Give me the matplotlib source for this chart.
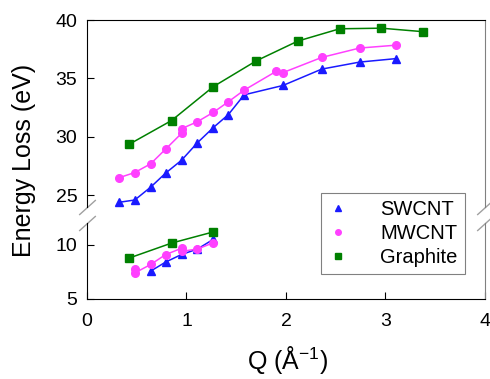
import numpy as np
import matplotlib
matplotlib.use('Agg')
import matplotlib.pyplot as plt
from matplotlib.lines import Line2D

plt.rcParams['font.family'] = ['Liberation Sans', 'DejaVu Sans']
plt.rcParams['mathtext.fontset'] = 'custom'
plt.rcParams['mathtext.rm'] = 'Liberation Sans'

# upper branch (plasmon, ~24-40 eV)
sw_q_hi = [0.32, 0.48, 0.64, 0.79, 0.95, 1.11, 1.27, 1.42, 1.58, 1.97, 2.36, 2.74, 3.11]
sw_e_hi = [24.4, 24.6, 25.7, 26.9, 28.0, 29.5, 30.8, 31.9, 33.6, 34.4, 35.8, 36.4, 36.7]
mw_q_hi = [0.32, 0.48, 0.64, 0.79, 0.95, 0.95, 1.11, 1.27, 1.42, 1.58, 1.90, 1.97, 2.36, 2.74, 3.11]
mw_e_hi = [26.5, 26.95, 27.7, 28.95, 30.3, 30.7, 31.3, 32.1, 33.0, 34.0, 35.6, 35.5, 36.8, 37.6, 37.85]
gr_q_hi = [0.42, 0.85, 1.27, 1.70, 2.12, 2.54, 2.96, 3.38]
gr_e_hi = [29.35, 31.4, 34.3, 36.5, 38.2, 39.25, 39.3, 39.0]

# lower branch (pi plasmon, ~7-11 eV)
sw_q_lo = [0.64, 0.79, 0.95, 1.11, 1.27]
sw_e_lo = [7.57, 8.4, 9.1, 9.6, 10.5]
mw_q_lo = [0.48, 0.48, 0.64, 0.79, 0.95, 0.95, 1.11, 1.27]
mw_e_lo = [7.79, 7.4, 8.18, 9.09, 9.67, 9.39, 9.6, 10.18]
gr_q_lo = [0.42, 0.85, 1.27]
gr_e_lo = [8.76, 10.15, 11.18]

labels = ['SWCNT', 'MWCNT', 'Graphite']
colors = ['#1a1aff', '#ff40ff', '#008000']
markers = ['^', 'o', 's']

fig = plt.figure(figsize=(4.9, 3.79), dpi=100)
ax_top = fig.add_axes([0.1776, 0.4538, 0.812, 0.4934])
ax_bot = fig.add_axes([0.1776, 0.2111, 0.812, 0.2005])

hi = [(sw_q_hi, sw_e_hi), (mw_q_hi, mw_e_hi), (gr_q_hi, gr_e_hi)]
lo = [(sw_q_lo, sw_e_lo), (mw_q_lo, mw_e_lo), (gr_q_lo, gr_e_lo)]
for (qh, eh), (ql, el), c, m in zip(hi, lo, colors, markers):
    ax_top.plot(qh, eh, color=c, marker=m, ms=5.5, lw=1.1)
    ax_bot.plot(ql, el, color=c, marker=m, ms=5.5, lw=1.1)

for ax in (ax_top, ax_bot):
    ax.set_xlim(0, 4)
    ax.spines['right'].set_color('#808080')
    ax.tick_params(direction='in', length=5, width=0.8, labelsize=14, pad=7)

ax_top.set_ylim(24, 40)
ax_top.set_yticks([25, 30, 35, 40])
ax_top.spines['bottom'].set_visible(False)
ax_top.tick_params(axis='x', bottom=False, labelbottom=False)

ax_bot.set_ylim(5, 12)
ax_bot.set_yticks([5, 10])
ax_bot.spines['top'].set_visible(False)
ax_bot.set_xticks([0, 1, 2, 3, 4])
ax_bot.tick_params(axis='x', pad=10)

# break marks
kw = dict(marker=[(-1, -0.9), (1, 0.9)], markersize=12, linestyle='none',
          color='#a0a0a0', mec='#a0a0a0', mew=1, clip_on=False)
ax_top.plot([0, 1], [0, 0], transform=ax_top.transAxes, **kw)
ax_bot.plot([0, 1], [1, 1], transform=ax_bot.transAxes, **kw)

fig.text(0.05, 0.578, 'Energy Loss (eV)', rotation=90, ha='center', va='center', fontsize=18)
fig.text(0.586, 0.05, 'Q (Å$^{-1}$)', ha='center', va='center', fontsize=18)

handles = [Line2D([], [], color=c, marker=m, ls='none', ms=4) for c, m in zip(colors, markers)]
leg = fig.legend(handles, labels, loc='upper left', bbox_to_anchor=(0.655, 0.491),
                 borderaxespad=0, fontsize=14.5, fancybox=False, framealpha=1,
                 handlelength=1, handletextpad=1.6, labelspacing=0.25, borderpad=0.35)
leg.get_frame().set_edgecolor('#808080')
leg.get_frame().set_linewidth(0.8)

fig.savefig('out.png', dpi=100)
